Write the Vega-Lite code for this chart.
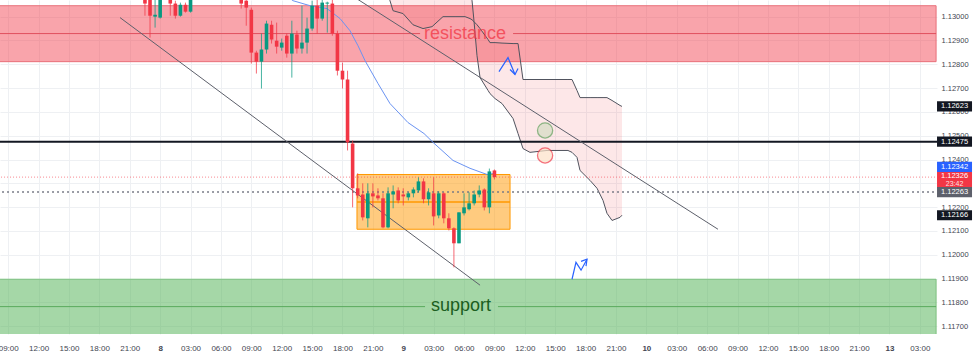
{
  "$schema": "https://vega.github.io/schema/vega-lite/v6.json",
  "width": 937,
  "height": 334,
  "autosize": {"type": "none"},
  "padding": {"left": 0, "top": 0, "right": 37, "bottom": 28},
  "background": "white",
  "config": {"view": {"stroke": null}},
  "resolve": {"axis": {"x": "independent", "y": "independent"}},
  "datasets": {
    "candles": [
      {"h":22.5,"o":1.13088,"c":1.13055,"hi":1.13109,"lo":1.13004},
      {"h":23.0,"o":1.13076,"c":1.13004,"hi":1.13092,"lo":1.12912},
      {"h":23.5,"o":1.13000,"c":1.13008,"hi":1.13076,"lo":1.12954},
      {"h":24.0,"o":1.12996,"c":1.13084,"hi":1.13101,"lo":1.12992},
      {"h":24.5,"o":1.13084,"c":1.13130,"hi":1.13151,"lo":1.13076},
      {"h":25.0,"o":1.13130,"c":1.13055,"hi":1.13143,"lo":1.13004},
      {"h":25.5,"o":1.13055,"c":1.13004,"hi":1.13067,"lo":1.12992},
      {"h":26.0,"o":1.13004,"c":1.13050,"hi":1.13059,"lo":1.13000},
      {"h":26.5,"o":1.13050,"c":1.13021,"hi":1.13059,"lo":1.13017},
      {"h":27.0,"o":1.13021,"c":1.13084,"hi":1.13101,"lo":1.13017},
      {"h":27.5,"o":1.13084,"c":1.13120,"hi":1.13140,"lo":1.13078},
      {"h":28.0,"o":1.13120,"c":1.13150,"hi":1.13170,"lo":1.13110},
      {"h":28.5,"o":1.13150,"c":1.13130,"hi":1.13165,"lo":1.13115},
      {"h":29.0,"o":1.13130,"c":1.13160,"hi":1.13180,"lo":1.13120},
      {"h":29.5,"o":1.13160,"c":1.13140,"hi":1.13175,"lo":1.13125},
      {"h":30.0,"o":1.13140,"c":1.13170,"hi":1.13190,"lo":1.13130},
      {"h":30.5,"o":1.13170,"c":1.13150,"hi":1.13185,"lo":1.13135},
      {"h":31.0,"o":1.13150,"c":1.13120,"hi":1.13160,"lo":1.13100},
      {"h":31.5,"o":1.13120,"c":1.13100,"hi":1.13140,"lo":1.13090},
      {"h":32.0,"o":1.13101,"c":1.13055,"hi":1.13117,"lo":1.13034},
      {"h":32.5,"o":1.13067,"c":1.13038,"hi":1.13088,"lo":1.12962},
      {"h":33.0,"o":1.13029,"c":1.12849,"hi":1.13038,"lo":1.12803},
      {"h":33.5,"o":1.12849,"c":1.12811,"hi":1.12857,"lo":1.12761},
      {"h":34.0,"o":1.12811,"c":1.12862,"hi":1.12929,"lo":1.12698},
      {"h":34.5,"o":1.12862,"c":1.12971,"hi":1.12983,"lo":1.12845},
      {"h":35.0,"o":1.12966,"c":1.12904,"hi":1.12983,"lo":1.12887},
      {"h":35.5,"o":1.12899,"c":1.12874,"hi":1.12975,"lo":1.12845},
      {"h":36.0,"o":1.12870,"c":1.12891,"hi":1.12908,"lo":1.12857},
      {"h":36.5,"o":1.12920,"c":1.12845,"hi":1.12929,"lo":1.12828},
      {"h":37.0,"o":1.12845,"c":1.12929,"hi":1.12983,"lo":1.12744},
      {"h":37.5,"o":1.12925,"c":1.12866,"hi":1.12941,"lo":1.12845},
      {"h":38.0,"o":1.12866,"c":1.12891,"hi":1.13046,"lo":1.12845},
      {"h":38.5,"o":1.12891,"c":1.12950,"hi":1.12996,"lo":1.12845},
      {"h":39.0,"o":1.12950,"c":1.13046,"hi":1.13067,"lo":1.12941},
      {"h":39.5,"o":1.13046,"c":1.12992,"hi":1.13076,"lo":1.12929},
      {"h":40.0,"o":1.12992,"c":1.13059,"hi":1.13080,"lo":1.12983},
      {"h":40.5,"o":1.13055,"c":1.13059,"hi":1.13063,"lo":1.12933},
      {"h":41.0,"o":1.13055,"c":1.12929,"hi":1.13076,"lo":1.12920},
      {"h":41.5,"o":1.12929,"c":1.12773,"hi":1.12941,"lo":1.12753},
      {"h":42.0,"o":1.12773,"c":1.12736,"hi":1.12807,"lo":1.12698},
      {"h":42.5,"o":1.12736,"c":1.12472,"hi":1.12773,"lo":1.12438},
      {"h":43.0,"o":1.12467,"c":1.12279,"hi":1.12480,"lo":1.12199},
      {"h":43.5,"o":1.12279,"c":1.12249,"hi":1.12342,"lo":1.12237},
      {"h":44.0,"o":1.12253,"c":1.12157,"hi":1.12300,"lo":1.12144},
      {"h":44.5,"o":1.12153,"c":1.12258,"hi":1.12300,"lo":1.12115},
      {"h":45.0,"o":1.12258,"c":1.12245,"hi":1.12300,"lo":1.12199},
      {"h":45.5,"o":1.12249,"c":1.12237,"hi":1.12279,"lo":1.12228},
      {"h":46.0,"o":1.12237,"c":1.12115,"hi":1.12258,"lo":1.12111},
      {"h":46.5,"o":1.12115,"c":1.12258,"hi":1.12283,"lo":1.12111},
      {"h":47.0,"o":1.12253,"c":1.12266,"hi":1.12291,"lo":1.12195},
      {"h":47.5,"o":1.12270,"c":1.12228,"hi":1.12283,"lo":1.12216},
      {"h":48.0,"o":1.12253,"c":1.12245,"hi":1.12279,"lo":1.12207},
      {"h":48.5,"o":1.12241,"c":1.12258,"hi":1.12262,"lo":1.12228},
      {"h":49.0,"o":1.12258,"c":1.12274,"hi":1.12283,"lo":1.12241},
      {"h":49.5,"o":1.12270,"c":1.12308,"hi":1.12325,"lo":1.12262},
      {"h":50.0,"o":1.12308,"c":1.12233,"hi":1.12321,"lo":1.12216},
      {"h":50.5,"o":1.12233,"c":1.12262,"hi":1.12279,"lo":1.12207},
      {"h":51.0,"o":1.12258,"c":1.12161,"hi":1.12325,"lo":1.12123},
      {"h":51.5,"o":1.12165,"c":1.12258,"hi":1.12266,"lo":1.12153},
      {"h":52.0,"o":1.12258,"c":1.12153,"hi":1.12262,"lo":1.12132},
      {"h":52.5,"o":1.12153,"c":1.12111,"hi":1.12174,"lo":1.12102},
      {"h":53.0,"o":1.12111,"c":1.12048,"hi":1.12115,"lo":1.11947},
      {"h":53.5,"o":1.12048,"c":1.12178,"hi":1.12178,"lo":1.12048},
      {"h":54.0,"o":1.12174,"c":1.12199,"hi":1.12258,"lo":1.12165},
      {"h":54.5,"o":1.12191,"c":1.12216,"hi":1.12262,"lo":1.12186},
      {"h":55.0,"o":1.12216,"c":1.12253,"hi":1.12270,"lo":1.12207},
      {"h":55.5,"o":1.12253,"c":1.12270,"hi":1.12291,"lo":1.12241},
      {"h":56.0,"o":1.12274,"c":1.12199,"hi":1.12279,"lo":1.12186},
      {"h":56.5,"o":1.12199,"c":1.12350,"hi":1.12362,"lo":1.12174},
      {"h":57.0,"o":1.12354,"c":1.12326,"hi":1.12358,"lo":1.12316}
    ],
    "ma": [
      {"h":35.8,"p":1.13109},{"h":37.12,"p":1.13067},{"h":38.80,"p":1.13046},{"h":40.47,"p":1.13034},
      {"h":41.76,"p":1.12992},{"h":42.74,"p":1.12941},{"h":43.53,"p":1.12878},{"h":44.23,"p":1.12815},
      {"h":45.51,"p":1.12719},{"h":46.69,"p":1.12635},{"h":48.47,"p":1.12555},{"h":50.05,"p":1.12509},
      {"h":50.94,"p":1.12472},{"h":52.91,"p":1.12396},{"h":54.59,"p":1.12363},{"h":56.27,"p":1.12337},
      {"h":57.06,"p":1.12342}
    ],
    "cloud": [
      {"h":45.71,"a":1.13151,"b":1.1320},
      {"h":46.69,"a":1.13067,"b":1.1320},
      {"h":46.99,"a":1.13025,"b":1.1320},
      {"h":47.98,"a":1.13013,"b":1.1320},
      {"h":48.96,"a":1.12966,"b":1.1320},
      {"h":49.95,"a":1.12950,"b":1.1320},
      {"h":50.84,"a":1.12958,"b":1.1320},
      {"h":51.92,"a":1.13000,"b":1.1320},
      {"h":53.11,"a":1.13000,"b":1.1320},
      {"h":54.10,"a":1.13000,"b":1.1318},
      {"h":54.59,"a":1.12992,"b":1.1312},
      {"h":54.79,"a":1.12987,"b":1.13067},
      {"h":54.98,"a":1.12979,"b":1.12983},
      {"h":55.28,"a":1.12966,"b":1.12836},
      {"h":55.58,"a":1.12950,"b":1.12744},
      {"h":56.37,"a":1.12904,"b":1.12690},
      {"h":56.56,"a":1.12891,"b":1.12677},
      {"h":57.06,"a":1.12891,"b":1.12656},
      {"h":57.75,"a":1.12889,"b":1.12635},
      {"h":58.84,"a":1.12887,"b":1.12572},
      {"h":59.33,"a":1.12887,"b":1.12509},
      {"h":59.82,"a":1.12736,"b":1.12446},
      {"h":60.51,"a":1.12736,"b":1.12430},
      {"h":62.19,"a":1.12736,"b":1.12438},
      {"h":64.26,"a":1.12736,"b":1.12438},
      {"h":64.66,"a":1.12736,"b":1.12430},
      {"h":65.15,"a":1.12690,"b":1.12409},
      {"h":65.45,"a":1.12660,"b":1.12354},
      {"h":66.44,"a":1.12660,"b":1.12312},
      {"h":67.13,"a":1.12660,"b":1.12279},
      {"h":67.72,"a":1.12660,"b":1.12228},
      {"h":68.11,"a":1.12660,"b":1.12174},
      {"h":68.61,"a":1.12648,"b":1.12144},
      {"h":69.40,"a":1.12627,"b":1.12157},
      {"h":69.59,"a":1.12623,"b":1.12166}
    ],
    "trend": [
      {"id":1,"h":20.04,"p":1.12996},{"id":1,"h":55.58,"p":1.11872},
      {"id":2,"h":40.77,"p":1.13147},{"id":2,"h":79.07,"p":1.12107}
    ],
    "resistance": [{"h":0,"h2":100.6,"top":1.13046,"bot":1.12811}],
    "support": [{"h":0,"h2":100.6,"top":1.11897,"bot":1.1160}],
    "box": [{"h":43.43,"h2":58.54,"top":1.12337,"bot":1.12107}],
    "resmid": [{"h":0,"h2":49.66,"p":1.12929},{"h":58.84,"h2":100.6,"p":1.12929}],
    "supmid": [{"h":0,"h2":50.15,"p":1.11782},{"h":57.35,"h2":100.6,"p":1.11782}],
    "boxmid": [{"h":43.43,"h2":58.54,"p":1.12222}],
    "level": [{"h":0,"h2":100.69,"p":1.12475}],
    "prevclose": [{"h":0,"h2":100.69,"p":1.12263}],
    "lastprice": [{"h":0,"h2":100.69,"p":1.12326}],
    "circles": [{"h":62.0,"p":1.12522,"kind":"g"},{"h":62.0,"p":1.12417,"kind":"r"}],
    "arrows": [
      {"seg":1,"ord":1,"h":57.45,"p":1.12769},{"seg":1,"ord":2,"h":58.34,"p":1.12828},{"seg":1,"ord":3,"h":59.03,"p":1.12757},
      {"seg":2,"ord":1,"h":58.54,"p":1.12778},{"seg":2,"ord":2,"h":59.03,"p":1.12757},{"seg":2,"ord":3,"h":59.33,"p":1.12782},
      {"seg":3,"ord":1,"h":64.66,"p":1.11897},{"seg":3,"ord":2,"h":65.05,"p":1.11968},{"seg":3,"ord":3,"h":65.55,"p":1.11935},{"seg":3,"ord":4,"h":66.14,"p":1.11981},
      {"seg":4,"ord":1,"h":65.55,"p":1.11972},{"seg":4,"ord":2,"h":66.14,"p":1.11981},{"seg":4,"ord":3,"h":66.04,"p":1.11952}
    ],
    "labels": [
      {"h":54.10,"p":1.12929,"t":"resistance","kind":"r"},
      {"h":53.70,"p":1.11784,"t":"support","kind":"s"}
    ],
    "tags": [
      {"h":102.42,"p":1.12623,"label":"1.12623","kind":"black"},
      {"h":102.42,"p":1.12475,"label":"1.12475","kind":"black"},
      {"h":102.42,"p":1.12166,"label":"1.12166","kind":"black"},
      {"h":102.42,"p":1.12263,"label":"1.12263","kind":"gray"},
      {"h":102.42,"p":1.12342,"label":"1.12342","kind":"blue"},
      {"h":102.42,"p":1.12326,"label":"1.12326","sub":"23:42","kind":"red"}
    ]
  },
  "layer": [
    {
      "data": {"name": "resistance"},
      "mark": {"type": "rect", "fill": "#f23645", "fillOpacity": 0.45, "stroke": "#e8707a", "strokeWidth": 1, "clip": true},
      "encoding": {
        "x": {"field": "h", "type": "quantitative", "scale": {"domain": [8.19, 100.69], "nice": false, "zero": false, "padding": 0},
          "axis": {"values": [9,12,15,18,21,24,27,30,33,36,39,42,45,48,51,54,57,60,63,66,69,72,75,78,81,84,87,90,93,96,99],
            "labelExpr": "datum.value % 24 == 0 ? (datum.value == 24 ? '8' : datum.value == 48 ? '9' : datum.value == 72 ? '10' : '13') : ((datum.value % 24 < 10 ? '0' : '') + (datum.value % 24) + ':00')",
            "title": null, "grid": true, "gridColor": "#eef0f3", "domain": false, "ticks": false,
            "labelFontSize": 8, "labelFont": "Liberation Sans", "labelColor": "#434651", "labelPadding": 10,
            "labelFlush": false, "labelOverlap": false, "labelBound": false,
            "labelFontWeight": {"condition": {"test": "datum.value % 24 == 0", "value": "bold"}, "value": "normal"}}},
        "x2": {"field": "h2"},
        "y": {"field": "top", "type": "quantitative", "scale": {"domain": [1.11667, 1.1307], "nice": false, "zero": false},
          "axis": {"orient": "right", "values": [1.117,1.118,1.119,1.12,1.121,1.122,1.123,1.124,1.125,1.126,1.127,1.128,1.129,1.13],
            "format": ".5f", "title": null, "grid": true, "gridColor": "#eef0f3", "domain": false, "ticks": false,
            "labelFontSize": 7.5, "labelFont": "Liberation Sans", "labelColor": "#434651", "labelPadding": 4, "labelOverlap": false}},
        "y2": {"field": "bot"}
      }
    },
    {
      "data": {"name": "support"},
      "mark": {"type": "rect", "fill": "#4caf50", "fillOpacity": 0.5, "stroke": "#7cc07f", "strokeWidth": 1, "clip": true},
      "encoding": {
        "x": {"field": "h", "type": "quantitative", "scale": {"domain": [8.19, 100.69], "nice": false, "zero": false, "padding": 0}, "axis": null},
        "x2": {"field": "h2"},
        "y": {"field": "top", "type": "quantitative", "scale": {"domain": [1.11667, 1.1307], "nice": false, "zero": false}, "axis": null},
        "y2": {"field": "bot"}
      }
    },
    {
      "data": {"name": "resmid"},
      "mark": {"type": "rule", "color": "#e0505e", "strokeWidth": 1, "clip": true},
      "encoding": {
        "x": {"field": "h", "type": "quantitative", "scale": {"domain": [8.19, 100.69], "nice": false, "zero": false, "padding": 0}, "axis": null},
        "x2": {"field": "h2"},
        "y": {"field": "p", "type": "quantitative", "scale": {"domain": [1.11667, 1.1307], "nice": false, "zero": false}, "axis": null}
      }
    },
    {
      "data": {"name": "supmid"},
      "mark": {"type": "rule", "color": "#5aaa5e", "strokeWidth": 1, "clip": true},
      "encoding": {
        "x": {"field": "h", "type": "quantitative", "scale": {"domain": [8.19, 100.69], "nice": false, "zero": false, "padding": 0}, "axis": null},
        "x2": {"field": "h2"},
        "y": {"field": "p", "type": "quantitative", "scale": {"domain": [1.11667, 1.1307], "nice": false, "zero": false}, "axis": null}
      }
    },
    {
      "data": {"name": "box"},
      "mark": {"type": "rect", "fill": "#ff9800", "fillOpacity": 0.5, "stroke": "#ff9800", "strokeWidth": 1, "clip": true},
      "encoding": {
        "x": {"field": "h", "type": "quantitative", "scale": {"domain": [8.19, 100.69], "nice": false, "zero": false, "padding": 0}, "axis": null},
        "x2": {"field": "h2"},
        "y": {"field": "top", "type": "quantitative", "scale": {"domain": [1.11667, 1.1307], "nice": false, "zero": false}, "axis": null},
        "y2": {"field": "bot"}
      }
    },
    {
      "data": {"name": "boxmid"},
      "mark": {"type": "rule", "color": "#ff9800", "strokeWidth": 1.5, "clip": true},
      "encoding": {
        "x": {"field": "h", "type": "quantitative", "scale": {"domain": [8.19, 100.69], "nice": false, "zero": false, "padding": 0}, "axis": null},
        "x2": {"field": "h2"},
        "y": {"field": "p", "type": "quantitative", "scale": {"domain": [1.11667, 1.1307], "nice": false, "zero": false}, "axis": null}
      }
    },
    {
      "data": {"name": "cloud"},
      "mark": {"type": "area", "color": "#f23645", "opacity": 0.12, "clip": true},
      "encoding": {
        "x": {"field": "h", "type": "quantitative", "scale": {"domain": [8.19, 100.69], "nice": false, "zero": false, "padding": 0}, "axis": null},
        "y": {"field": "a", "type": "quantitative", "scale": {"domain": [1.11667, 1.1307], "nice": false, "zero": false}, "axis": null},
        "y2": {"field": "b"}
      }
    },
    {
      "data": {"name": "cloud"},
      "mark": {"type": "line", "color": "#50535e", "strokeWidth": 1, "clip": true},
      "encoding": {
        "x": {"field": "h", "type": "quantitative", "scale": {"domain": [8.19, 100.69], "nice": false, "zero": false, "padding": 0}, "axis": null},
        "y": {"field": "a", "type": "quantitative", "scale": {"domain": [1.11667, 1.1307], "nice": false, "zero": false}, "axis": null}
      }
    },
    {
      "data": {"name": "cloud"},
      "mark": {"type": "line", "color": "#50535e", "strokeWidth": 1, "clip": true},
      "encoding": {
        "x": {"field": "h", "type": "quantitative", "scale": {"domain": [8.19, 100.69], "nice": false, "zero": false, "padding": 0}, "axis": null},
        "y": {"field": "b", "type": "quantitative", "scale": {"domain": [1.11667, 1.1307], "nice": false, "zero": false}, "axis": null}
      }
    },
    {
      "data": {"name": "lastprice"},
      "mark": {"type": "rule", "color": "#f23645", "strokeOpacity": 0.6, "strokeWidth": 1, "strokeDash": [1, 2], "clip": true},
      "encoding": {
        "x": {"field": "h", "type": "quantitative", "scale": {"domain": [8.19, 100.69], "nice": false, "zero": false, "padding": 0}, "axis": null},
        "x2": {"field": "h2"},
        "y": {"field": "p", "type": "quantitative", "scale": {"domain": [1.11667, 1.1307], "nice": false, "zero": false}, "axis": null}
      }
    },
    {
      "data": {"name": "prevclose"},
      "mark": {"type": "rule", "color": "#787b86", "strokeWidth": 1.5, "strokeDash": [2, 3], "clip": true},
      "encoding": {
        "x": {"field": "h", "type": "quantitative", "scale": {"domain": [8.19, 100.69], "nice": false, "zero": false, "padding": 0}, "axis": null},
        "x2": {"field": "h2"},
        "y": {"field": "p", "type": "quantitative", "scale": {"domain": [1.11667, 1.1307], "nice": false, "zero": false}, "axis": null}
      }
    },
    {
      "data": {"name": "level"},
      "mark": {"type": "rule", "color": "#131722", "strokeWidth": 2, "clip": true},
      "encoding": {
        "x": {"field": "h", "type": "quantitative", "scale": {"domain": [8.19, 100.69], "nice": false, "zero": false, "padding": 0}, "axis": null},
        "x2": {"field": "h2"},
        "y": {"field": "p", "type": "quantitative", "scale": {"domain": [1.11667, 1.1307], "nice": false, "zero": false}, "axis": null}
      }
    },
    {
      "data": {"name": "trend"},
      "mark": {"type": "line", "color": "#5d606b", "strokeWidth": 1, "clip": true},
      "encoding": {
        "x": {"field": "h", "type": "quantitative", "scale": {"domain": [8.19, 100.69], "nice": false, "zero": false, "padding": 0}, "axis": null},
        "y": {"field": "p", "type": "quantitative", "scale": {"domain": [1.11667, 1.1307], "nice": false, "zero": false}, "axis": null},
        "detail": {"field": "id", "type": "nominal"}
      }
    },
    {
      "data": {"name": "ma"},
      "mark": {"type": "line", "color": "#6a93f2", "strokeWidth": 1, "clip": true},
      "encoding": {
        "x": {"field": "h", "type": "quantitative", "scale": {"domain": [8.19, 100.69], "nice": false, "zero": false, "padding": 0}, "axis": null},
        "y": {"field": "p", "type": "quantitative", "scale": {"domain": [1.11667, 1.1307], "nice": false, "zero": false}, "axis": null}
      }
    },
    {
      "data": {"name": "candles"},
      "mark": {"type": "rule", "strokeWidth": 1, "strokeOpacity": 0.75, "clip": true},
      "encoding": {
        "x": {"field": "h", "type": "quantitative", "scale": {"domain": [8.19, 100.69], "nice": false, "zero": false, "padding": 0}, "axis": null},
        "y": {"field": "lo", "type": "quantitative", "scale": {"domain": [1.11667, 1.1307], "nice": false, "zero": false}, "axis": null},
        "y2": {"field": "hi"},
        "color": {"condition": {"test": "datum.c >= datum.o", "value": "#089981"}, "value": "#f23645"}
      }
    },
    {
      "data": {"name": "candles"},
      "mark": {"type": "bar", "width": 3.6, "clip": true},
      "encoding": {
        "x": {"field": "h", "type": "quantitative", "scale": {"domain": [8.19, 100.69], "nice": false, "zero": false, "padding": 0}, "axis": null},
        "y": {"field": "o", "type": "quantitative", "scale": {"domain": [1.11667, 1.1307], "nice": false, "zero": false}, "axis": null},
        "y2": {"field": "c"},
        "color": {"condition": {"test": "datum.c >= datum.o", "value": "#089981"}, "value": "#f23645"}
      }
    },
    {
      "data": {"name": "circles"},
      "mark": {"type": "point", "filled": false, "size": 230, "strokeWidth": 1.3, "clip": true},
      "encoding": {
        "x": {"field": "h", "type": "quantitative", "scale": {"domain": [8.19, 100.69], "nice": false, "zero": false, "padding": 0}, "axis": null},
        "y": {"field": "p", "type": "quantitative", "scale": {"domain": [1.11667, 1.1307], "nice": false, "zero": false}, "axis": null},
        "fill": {"condition": {"test": "datum.kind == 'g'", "value": "#d6dcc4"}, "value": "#fde2c8"},
        "stroke": {"condition": {"test": "datum.kind == 'g'", "value": "#5fa05a"}, "value": "#f23645"},
        "fillOpacity": {"value": 1}
      }
    },
    {
      "data": {"name": "arrows"},
      "mark": {"type": "line", "color": "#2962ff", "strokeWidth": 1.2, "clip": true},
      "encoding": {
        "x": {"field": "h", "type": "quantitative", "scale": {"domain": [8.19, 100.69], "nice": false, "zero": false, "padding": 0}, "axis": null},
        "y": {"field": "p", "type": "quantitative", "scale": {"domain": [1.11667, 1.1307], "nice": false, "zero": false}, "axis": null},
        "detail": {"field": "seg", "type": "nominal"},
        "order": {"field": "ord", "type": "quantitative"}
      }
    },
    {
      "data": {"name": "labels"},
      "transform": [{"filter": "datum.kind == 'r'"}],
      "mark": {"type": "text", "font": "Liberation Sans", "fontSize": 18, "color": "#f23645", "opacity": 0.75, "align": "center", "baseline": "middle"},
      "encoding": {
        "x": {"field": "h", "type": "quantitative", "scale": {"domain": [8.19, 100.69], "nice": false, "zero": false, "padding": 0}, "axis": null},
        "y": {"field": "p", "type": "quantitative", "scale": {"domain": [1.11667, 1.1307], "nice": false, "zero": false}, "axis": null},
        "text": {"field": "t"}
      }
    },
    {
      "data": {"name": "labels"},
      "transform": [{"filter": "datum.kind == 's'"}],
      "mark": {"type": "text", "font": "Liberation Sans", "fontSize": 18, "color": "#1b5e20", "align": "center", "baseline": "middle"},
      "encoding": {
        "x": {"field": "h", "type": "quantitative", "scale": {"domain": [8.19, 100.69], "nice": false, "zero": false, "padding": 0}, "axis": null},
        "y": {"field": "p", "type": "quantitative", "scale": {"domain": [1.11667, 1.1307], "nice": false, "zero": false}, "axis": null},
        "text": {"field": "t"}
      }
    },
    {
      "data": {"name": "tags"},
      "transform": [{"filter": "datum.kind == 'red'"}],
      "mark": {"type": "point", "filled": true, "size": 1225, "shape": "M-1,-0.46L1,-0.46L1,0.46L-1,0.46Z", "opacity": 1, "color": "#f23645", "yOffset": 2.5},
      "encoding": {
        "x": {"field": "h", "type": "quantitative", "scale": {"domain": [8.19, 100.69], "nice": false, "zero": false, "padding": 0}, "axis": null},
        "y": {"field": "p", "type": "quantitative", "scale": {"domain": [1.11667, 1.1307], "nice": false, "zero": false}, "axis": null}
      }
    },
    {
      "data": {"name": "tags"},
      "transform": [{"filter": "datum.kind == 'black' || datum.kind == 'gray'"}],
      "mark": {"type": "point", "filled": true, "size": 1225, "shape": "M-1,-0.29L1,-0.29L1,0.29L-1,0.29Z", "opacity": 1},
      "encoding": {
        "x": {"field": "h", "type": "quantitative", "scale": {"domain": [8.19, 100.69], "nice": false, "zero": false, "padding": 0}, "axis": null},
        "y": {"field": "p", "type": "quantitative", "scale": {"domain": [1.11667, 1.1307], "nice": false, "zero": false}, "axis": null},
        "color": {"condition": {"test": "datum.kind == 'gray'", "value": "#5d606b"}, "value": "#131722"}
      }
    },
    {
      "data": {"name": "tags"},
      "transform": [{"filter": "datum.kind == 'blue'"}],
      "mark": {"type": "point", "filled": true, "size": 1225, "shape": "M-1,-0.29L1,-0.29L1,0.29L-1,0.29Z", "opacity": 1, "color": "#2962ff", "yOffset": -6.5},
      "encoding": {
        "x": {"field": "h", "type": "quantitative", "scale": {"domain": [8.19, 100.69], "nice": false, "zero": false, "padding": 0}, "axis": null},
        "y": {"field": "p", "type": "quantitative", "scale": {"domain": [1.11667, 1.1307], "nice": false, "zero": false}, "axis": null}
      }
    },
    {
      "data": {"name": "tags"},
      "transform": [{"filter": "datum.kind == 'black' || datum.kind == 'gray'"}],
      "mark": {"type": "text", "font": "Liberation Sans", "fontSize": 7.5, "color": "white", "align": "center", "baseline": "middle"},
      "encoding": {
        "x": {"field": "h", "type": "quantitative", "scale": {"domain": [8.19, 100.69], "nice": false, "zero": false, "padding": 0}, "axis": null},
        "y": {"field": "p", "type": "quantitative", "scale": {"domain": [1.11667, 1.1307], "nice": false, "zero": false}, "axis": null},
        "text": {"field": "label"}
      }
    },
    {
      "data": {"name": "tags"},
      "transform": [{"filter": "datum.kind == 'blue'"}],
      "mark": {"type": "text", "font": "Liberation Sans", "fontSize": 7.5, "color": "white", "align": "center", "baseline": "middle", "dy": -6.5},
      "encoding": {
        "x": {"field": "h", "type": "quantitative", "scale": {"domain": [8.19, 100.69], "nice": false, "zero": false, "padding": 0}, "axis": null},
        "y": {"field": "p", "type": "quantitative", "scale": {"domain": [1.11667, 1.1307], "nice": false, "zero": false}, "axis": null},
        "text": {"field": "label"}
      }
    },
    {
      "data": {"name": "tags"},
      "transform": [{"filter": "datum.kind == 'red'"}],
      "mark": {"type": "text", "font": "Liberation Sans", "fontSize": 7.5, "color": "white", "align": "center", "baseline": "middle", "dy": -1.3},
      "encoding": {
        "x": {"field": "h", "type": "quantitative", "scale": {"domain": [8.19, 100.69], "nice": false, "zero": false, "padding": 0}, "axis": null},
        "y": {"field": "p", "type": "quantitative", "scale": {"domain": [1.11667, 1.1307], "nice": false, "zero": false}, "axis": null},
        "text": {"field": "label"}
      }
    },
    {
      "data": {"name": "tags"},
      "transform": [{"filter": "datum.kind == 'red'"}],
      "mark": {"type": "text", "font": "Liberation Sans", "fontSize": 7, "color": "white", "opacity": 0.85, "align": "center", "baseline": "middle", "dy": 6.8},
      "encoding": {
        "x": {"field": "h", "type": "quantitative", "scale": {"domain": [8.19, 100.69], "nice": false, "zero": false, "padding": 0}, "axis": null},
        "y": {"field": "p", "type": "quantitative", "scale": {"domain": [1.11667, 1.1307], "nice": false, "zero": false}, "axis": null},
        "text": {"field": "sub"}
      }
    }
  ]
}
